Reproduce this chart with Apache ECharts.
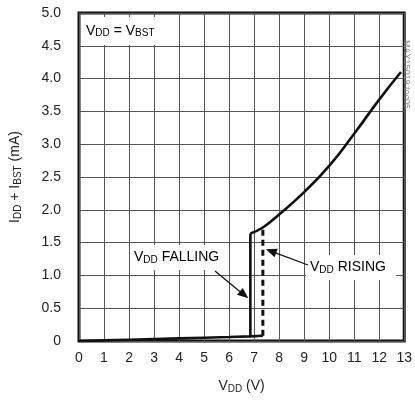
<!DOCTYPE html>
<html>
<head>
<meta charset="utf-8">
<script src="https://cdn.jsdelivr.net/npm/echarts@6/dist/echarts.min.js"></script>
<style>
  html, body { margin: 0; padding: 0; background: #fff; }
  #chart { width: 415px; height: 403px; }
</style>
</head>
<body>
<div id="chart"></div>
<script>
// data (V_DD in V, I_DD + I_BST in mA)
var xTicks = [0, 1, 2, 3, 4, 5, 6, 7, 8, 9, 10, 11, 12, 13]
var yTicks = [0, 0.5, 1.0, 1.5, 2.0, 2.5, 3.0, 3.5, 4.0, 4.5, 5.0]

// low current branch (below UVLO)
var lowX = [0, 1, 2, 3, 4, 5, 6, 6.85, 7.35]
var lowY = [0.0, 0.01, 0.02, 0.03, 0.04, 0.05, 0.06, 0.07, 0.08]

// falling step (solid) and rising step (dashed)
var fallX = [6.85, 6.85]
var fallY = [0.07, 1.64]
var riseX = [7.35, 7.35]
var riseY = [0.08, 1.73]

// operating current curve
var runX = [6.85, 7.35, 8, 9, 10, 11, 12, 12.87]
var runY = [1.64, 1.73, 1.93, 2.27, 2.67, 3.16, 3.68, 4.1]

var FONT = "'Liberation Sans', Arial, sans-serif"

function pairs(xs, ys) {
    return xs.map(function (x, i) { return [x, ys[i]] })
}

var sub = {
    n: { fontFamily: FONT, fontSize: 14, color: '#222' },
    s: { fontFamily: FONT, fontSize: 10, color: '#222', padding: [5, 0, 0, 0] }
}

var chart = echarts.init(document.getElementById('chart'))

var lineStyle = { color: '#111', width: 2.6 }

chart.setOption({
    animation: false,
    backgroundColor: '#fff',
    grid: {
        left: 79, right: 8, top: 13, bottom: 62,
        show: true,
        borderColor: '#111',
        borderWidth: 3
    },
    xAxis: {
        type: 'value',
        min: 0, max: 13, interval: 1,
        axisLine: { show: false },
        axisTick: { show: false },
        axisLabel: {
            fontFamily: FONT, fontSize: 14, color: '#222', margin: 10,
            formatter: function (v) { return xTicks.indexOf(v) >= 0 ? String(v) : '' }
        },
        splitLine: { lineStyle: { color: '#555', width: 1 } },
        name: '{n|V}{s|DD}{n| (V)}',
        nameLocation: 'middle',
        nameGap: 38,
        nameTextStyle: { rich: sub }
    },
    yAxis: {
        type: 'value',
        min: 0, max: 5, interval: 0.5,
        axisLine: { show: false },
        axisTick: { show: false },
        axisLabel: {
            fontFamily: FONT, fontSize: 14, color: '#222', margin: 18,
            formatter: function (v) { return v === 0 ? '0' : v.toFixed(1) }
        },
        splitLine: { lineStyle: { color: '#555', width: 1 } },
        name: '{n|I}{s|DD}{n| + I}{s|BST}{n| (mA)}',
        nameLocation: 'middle',
        nameGap: 56,
        nameTextStyle: { rich: sub }
    },
    series: [
        { name: 'low', type: 'line', symbol: 'none', data: pairs(lowX, lowY), lineStyle: lineStyle },
        { name: 'falling', type: 'line', symbol: 'none', data: pairs(fallX, fallY), lineStyle: lineStyle },
        { name: 'rising', type: 'line', symbol: 'none', data: pairs(riseX, riseY),
          lineStyle: { color: '#111', width: 3, type: [6, 4] } },
        { name: 'run', type: 'line', symbol: 'none', smooth: true,
          data: pairs(runX, runY), lineStyle: lineStyle }
    ]
})

// annotations: labels in white boxes and arrows pointing at the steps
var fallTip = chart.convertToPixel({ gridIndex: 0 }, [6.85, 0.65])
var riseTip = chart.convertToPixel({ gridIndex: 0 }, [7.35, 1.4])

function arrow(x1, y1, x2, y2) {
    var a = Math.atan2(y2 - y1, x2 - x1)
    var L = 11, W = 4.5
    var bx = x2 - L * Math.cos(a), by = y2 - L * Math.sin(a)
    return [
        { type: 'line', shape: { x1: x1, y1: y1, x2: bx, y2: by }, style: { stroke: '#111', lineWidth: 1.3 } },
        { type: 'polygon', shape: { points: [
            [x2, y2],
            [bx + W * Math.sin(a), by - W * Math.cos(a)],
            [bx - W * Math.sin(a), by + W * Math.cos(a)]
        ] }, style: { fill: '#111' } }
    ]
}

function box(x, y, w, h, text) {
    return {
        type: 'group', x: x, y: y,
        children: [
            { type: 'rect', shape: { x: 0, y: 0, width: w, height: h }, style: { fill: '#fff' } },
            { type: 'text', x: 4, y: h / 2, style: { text: text, rich: sub, verticalAlign: 'middle' } }
        ]
    }
}

var graphics = [
    box(82, 17, 88, 28, '{n|V}{s|DD}{n| = V}{s|BST}'),
    box(130, 245, 94, 25, '{n|V}{s|DD}{n| FALLING}'),
    box(306, 255, 90, 25, '{n|V}{s|DD}{n| RISING}')
]
graphics = graphics.concat(arrow(215, 271, fallTip[0] - 2, fallTip[1]))
graphics = graphics.concat(arrow(308, 265, riseTip[0] + 3, riseTip[1]))
graphics.push({
    type: 'text', x: 411, y: 40, rotation: -Math.PI / 2,
    style: { text: 'MAX15019 toc05', fontFamily: FONT, fontSize: 9, fill: '#888' }
})

chart.setOption({ graphic: graphics })
</script>
</body>
</html>
